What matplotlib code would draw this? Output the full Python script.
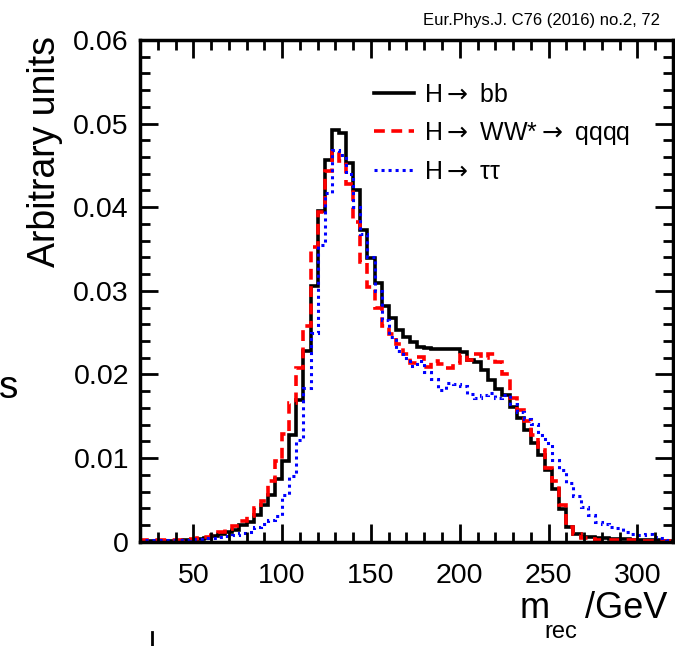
import numpy as np
import matplotlib.pyplot as plt
from matplotlib.lines import Line2D
from matplotlib.ticker import MultipleLocator

plt.rcParams['font.family'] = ['Liberation Sans', 'DejaVu Sans']

# 4 GeV bins from 20 to 320 GeV
bin_edges = np.arange(20, 324, 4)

# H -> bb (black, solid)
h_bb = [0.0001, 0.0001, 0.0001, 0.0001, 0.0001, 0.0001, 0.0002, 0.0002, 0.0003, 0.0004,
        0.0007, 0.0009, 0.0012, 0.0014, 0.0020, 0.0024, 0.0032, 0.0044, 0.0056, 0.0075,
        0.0096, 0.0128, 0.0169, 0.0228, 0.0306, 0.0396, 0.0456, 0.0492, 0.0489, 0.0453,
        0.0421, 0.0373, 0.0339, 0.0309, 0.0282, 0.0268, 0.0253, 0.0245, 0.0239, 0.0233,
        0.0232, 0.0231, 0.0230, 0.0230, 0.0231, 0.0227, 0.0217, 0.0215, 0.0205, 0.0193,
        0.0183, 0.0175, 0.0161, 0.0148, 0.0134, 0.0118, 0.0104, 0.0086, 0.0063, 0.0039,
        0.0017, 0.0009, 0.0006, 0.0005, 0.0004, 0.0004, 0.0003, 0.0003, 0.0003, 0.0002,
        0.0002, 0.0002, 0.0002, 0.0001, 0.0001]

# H -> WW* -> qqqq (red, dashed)
h_ww = [0.0002, 0.0002, 0.0002, 0.0002, 0.0002, 0.0002, 0.0003, 0.0003, 0.0004, 0.0006,
        0.0008, 0.0011, 0.0015, 0.0019, 0.0025, 0.0031, 0.0040, 0.0049, 0.0073, 0.0097,
        0.0129, 0.0166, 0.0208, 0.0258, 0.0352, 0.0394, 0.0443, 0.0466, 0.0455, 0.0428,
        0.0382, 0.0334, 0.0305, 0.0280, 0.0258, 0.0248, 0.0236, 0.0225, 0.0214, 0.0221,
        0.0209, 0.0216, 0.0213, 0.0208, 0.0214, 0.0223, 0.0217, 0.0224, 0.0220, 0.0224,
        0.0215, 0.0201, 0.0172, 0.0157, 0.0144, 0.0128, 0.0110, 0.0088, 0.0073, 0.0044,
        0.0017, 0.0009, 0.0004, 0.0003, 0.0002, 0.0002, 0.0002, 0.0002, 0.0002, 0.0002,
        0.0001, 0.0001, 0.0001, 0.0001, 0.0001]

# H -> tautau (blue, dotted)
h_tautau = [0.0002, 0.0002, 0.0002, 0.0002, 0.0002, 0.0002, 0.0002, 0.0003, 0.0003, 0.0004,
            0.0004, 0.0005, 0.0007, 0.0008, 0.0010, 0.0012, 0.0017, 0.0021, 0.0026, 0.0031,
            0.0056, 0.0079, 0.0122, 0.0184, 0.0249, 0.0355, 0.0417, 0.0469, 0.0462, 0.0440,
            0.0400, 0.0368, 0.0340, 0.0300, 0.0265, 0.0245, 0.0228, 0.0220, 0.0210, 0.0216,
            0.0203, 0.0194, 0.0181, 0.0190, 0.0189, 0.0186, 0.0177, 0.0172, 0.0176, 0.0178,
            0.0172, 0.0176, 0.0165, 0.0155, 0.0147, 0.0141, 0.0127, 0.0118, 0.0098, 0.0086,
            0.0070, 0.0055, 0.0042, 0.0032, 0.0023, 0.0021, 0.0018, 0.0016, 0.0012, 0.0009,
            0.0008, 0.0009, 0.0006, 0.0004, 0.0002]

labels = [r'H$\rightarrow$ bb', r'H$\rightarrow$ WW*$\rightarrow$ qqqq', 'H$\\rightarrow$ \u03c4\u03c4']
x_ticks = [50, 100, 150, 200, 250, 300]
y_ticks = [0, 0.01, 0.02, 0.03, 0.04, 0.05, 0.06]
y_tick_labels = ['0', '0.01', '0.02', '0.03', '0.04', '0.05', '0.06']

fig = plt.figure(figsize=(6.75, 6.46), dpi=100)
ax = fig.add_axes([0.2074, 0.1615, 0.7896, 0.7766])

ax.stairs(h_bb, bin_edges, color='black', lw=2.6, label=labels[0])
ax.stairs(h_ww, bin_edges, color='red', lw=2.6, linestyle=(0, (3, 1.8)), label=labels[1])
ax.stairs(h_tautau, bin_edges, color='blue', lw=2.2, linestyle=(0, (1, 1.3)), label=labels[2])

ax.set_xlim(20, 320)
ax.set_ylim(0, 0.06)
ax.set_xticks(x_ticks)
ax.set_yticks(y_ticks)
ax.set_yticklabels(y_tick_labels)
ax.xaxis.set_minor_locator(MultipleLocator(10))
ax.yaxis.set_minor_locator(MultipleLocator(0.002))

for s in ax.spines.values():
    s.set_linewidth(2.5)
ax.tick_params(which='both', direction='in', top=True, right=True, width=2)
ax.tick_params(which='major', length=13, labelsize=20.5)
ax.tick_params(which='minor', length=7)
ax.tick_params(axis='x', which='major', pad=15)
ax.tick_params(axis='y', which='major', pad=8)

ax.legend(loc='upper left', bbox_to_anchor=(0.42, 0.935), frameon=False, fontsize=18,
          handlelength=1.6, handletextpad=0.4, labelspacing=0.52, borderaxespad=0)

# axis titles, ROOT style
fig.text(0.067, 0.766, 'Arbitrary units', rotation=90, ha='center', va='center', fontsize=27)
fig.text(0.770, 0.043, 'm', fontsize=26, va='baseline')
fig.text(0.807, 0.012, 'rec', fontsize=17, va='baseline')
fig.text(0.866, 0.043, '/GeV', fontsize=26, va='baseline')

fig.text(0.978, 0.969, 'Eur.Phys.J. C76 (2016) no.2, 72', ha='right', va='center', fontsize=12)

# bits of neighbouring panels cut into the picture
fig.text(-0.002, 0.384, 's', fontsize=28, va='baseline')
fig.add_artist(Line2D([152 / 675, 152 / 675], [0, 14 / 646], transform=fig.transFigure,
                      color='black', lw=2))

fig.savefig('out.png', dpi=100)
